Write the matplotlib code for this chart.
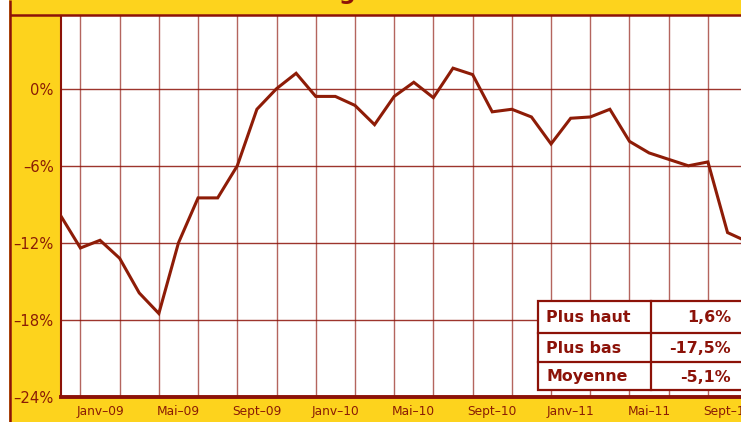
import matplotlib
matplotlib.use("Agg")
import matplotlib.pyplot as plt
from matplotlib.patches import Rectangle

# ---------------- data ----------------
categories = ["Nov-08", "Déc-08",
              "Janv-09", "Févr-09", "Mars-09", "Avr-09", "Mai-09", "Juin-09",
              "Juil-09", "Août-09", "Sept-09", "Oct-09", "Nov-09", "Déc-09",
              "Janv-10", "Févr-10", "Mars-10", "Avr-10", "Mai-10", "Juin-10",
              "Juil-10", "Août-10", "Sept-10", "Oct-10", "Nov-10", "Déc-10",
              "Janv-11", "Févr-11", "Mars-11", "Avr-11", "Mai-11", "Juin-11",
              "Juil-11", "Août-11", "Sept-11", "Oct-11"]
values = [-9.9, -12.4, -11.8, -13.2, -15.9, -17.5, -12.0, -8.5, -8.5, -6.0,
          -1.6, 0.0, 1.2, -0.6, -0.6, -1.3, -2.8, -0.6, 0.5, -0.7,
          1.6, 1.1, -1.8, -1.6, -2.2, -4.3, -2.3, -2.2, -1.6, -4.1,
          -5.0, -5.5, -6.0, -5.7, -11.2, -11.9]
ytick_values = [0, -6, -12, -18, -24]
ytick_labels = ["0%", "–6%", "–12%", "–18%", "–24%"]
stat_labels = ["Plus haut", "Plus bas", "Moyenne"]
stat_values = ["1,6%", "-17,5%", "-5,1%"]

# ---------------- style ----------------
YELLOW = "#FDD31D"
DARK = "#8C1208"
LINE = "#8E1C07"
TXT = "#8A1C05"
W, H = 741, 422

fig = plt.figure(figsize=(W / 100, H / 100), dpi=100, facecolor=YELLOW)

# main plot axes (extends past the right edge, as in the cropped original)
x0_px, top_px, bot_px, month_px = 60.8, 16.0, 397.0, 19.61
n_span = 36
ax = fig.add_axes([x0_px / W, (H - bot_px) / H, n_span * month_px / W, (bot_px - top_px) / H])
ax.set_facecolor("white")

xs = list(range(len(values)))
ax.plot(xs, values, color=LINE, lw=2.2, solid_joinstyle="miter", zorder=3, clip_on=True)

ax.set_xlim(0, n_span)
ax.set_ylim(-24, 5.66)

# labels every 4 months, starting at Janv-09
lab_pos = xs[2::4]
lab_txt = [c.replace("-", "–") for c in categories[2::4]]
ax.set_xticks(lab_pos)
ax.set_xticklabels(lab_txt, fontsize=8.8, color=TXT, family="DejaVu Sans")
ax.set_xticks([i for i in xs if i % 2 == 1], minor=True)
ax.tick_params(axis="x", which="both", length=0, pad=5.5)
ax.grid(axis="x", which="minor", color=DARK, alpha=0.65, lw=1.0)

ax.set_yticks(ytick_values)
ax.set_yticklabels(ytick_labels, fontsize=10.6, color=TXT, family="DejaVu Sans")
ax.tick_params(axis="y", length=0, pad=5)
ax.grid(axis="y", which="major", color=DARK, alpha=0.85, lw=1.0)
ax.set_axisbelow(True)

for s in ("top", "right"):
    ax.spines[s].set_visible(False)
ax.spines["left"].set_color(DARK)
ax.spines["left"].set_linewidth(1.5)
ax.spines["bottom"].set_color(DARK)
ax.spines["bottom"].set_linewidth(2.8)

# ---------------- overlay in pixel coordinates ----------------
ov = fig.add_axes([0, 0, 1, 1], zorder=10)
ov.set_xlim(0, W)
ov.set_ylim(H, 0)
ov.axis("off")
ov.patch.set_alpha(0)

# white strip and frame lines
ov.add_patch(Rectangle((0, 0), 9, H, facecolor="white", edgecolor="none"))
ov.plot([10, 10], [0, H], color=DARK, lw=1.8, solid_capstyle="butt")
ov.plot([10, W + 5], [14.5, 14.5], color=DARK, lw=1.8, solid_capstyle="butt")

# cut-off title (only the descender of a letter is visible)
ov.text(347, -1.5, "g", color=DARK, fontsize=17, fontweight="bold",
        ha="center", va="baseline", family="DejaVu Sans")

# summary table
tx0, tx1, tcol = 537.5, 760, 651
row_y = [301, 333, 362, 390]
ov.add_patch(Rectangle((tx0, row_y[0]), tx1 - tx0, row_y[-1] - row_y[0],
                       facecolor="white", edgecolor=DARK, lw=1.6, zorder=11))
ov.plot([tcol, tcol], [row_y[0], row_y[-1]], color=DARK, lw=1.6, zorder=12)
for yy in row_y[1:-1]:
    ov.plot([tx0, tx1], [yy, yy], color=DARK, lw=1.6, zorder=12)
for k, (lab, val) in enumerate(zip(stat_labels, stat_values)):
    yc = (row_y[k] + row_y[k + 1]) / 2 + 1
    ov.text(546, yc, lab, color=DARK, fontsize=11.4, fontweight="bold",
            ha="left", va="center", family="DejaVu Sans", zorder=13)
    ov.text(731, yc, val, color=DARK, fontsize=11.4, fontweight="bold",
            ha="right", va="center", family="DejaVu Sans", zorder=13)

fig.savefig("out.png", dpi=100, facecolor=YELLOW)
